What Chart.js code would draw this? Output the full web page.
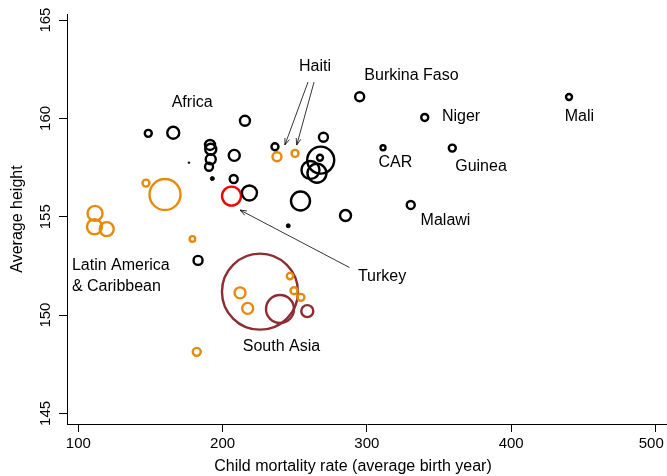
<!DOCTYPE html>
<html>
<head>
<meta charset="utf-8">
<script src="https://cdn.jsdelivr.net/npm/chart.js@4"></script>
<style>
  html, body { margin: 0; padding: 0; background: #fff; }
</style>
</head>
<body>
<canvas id="myChart" width="667" height="476"></canvas>
<script>
// values: child mortality (x), average height (y), bubble weight (r)
const africaX = [148.5, 165.8, 191.3, 191.8, 191.8, 190.6, 215.5, 208.1, 207.7, 218.6, 236.3, 269.9, 268.0, 267.5, 260.9, 265.4, 254.0, 285.2, 295.0, 311.2, 340.1, 359.2, 330.4, 440.1, 183.0];
const africaY = [159.24, 159.27, 158.65, 158.43, 157.92, 157.54, 159.88, 158.12, 156.92, 156.21, 158.56, 159.04, 157.88, 158.0, 157.38, 157.21, 155.80, 155.06, 161.10, 158.51, 160.05, 158.49, 155.60, 161.09, 152.78];
const africaR = [3.5, 6, 5, 5.5, 5, 4, 5, 5.5, 4, 7.5, 3.5, 4.5, 13.5, 3, 9, 9.5, 9.5, 5.5, 4.5, 2.5, 3.5, 3.5, 4, 3, 4.5];

const africaDotX = [176.7, 192.9, 245.5];
const africaDotY = [157.75, 156.94, 154.54];
const africaDotR = [0.8, 2, 2];

const latamX = [146.9, 160.1, 111.6, 111.2, 119.7, 179.1, 237.7, 250.2, 212.1, 217.4, 246.7, 249.5, 254.3, 182.1];
const latamY = [156.71, 156.13, 155.17, 154.49, 154.37, 153.87, 158.05, 158.22, 151.13, 150.34, 151.98, 151.24, 150.90, 148.13];
const latamR = [3.5, 15.5, 7.5, 7.5, 7, 2.8, 4.5, 3.5, 5.5, 5.5, 3.2, 3.5, 3.5, 4];

const southAsiaX = [225.9, 239.8, 258.7];
const southAsiaY = [151.19, 150.31, 150.20];
const southAsiaR = [38, 14, 6];

const turkeyX = [206.2];
const turkeyY = [156.05];
const turkeyR = [9.5];

const xTicks = [100, 200, 300, 400, 500];
const yTicks = [145, 150, 155, 160, 165];

// text labels and arrows, placed in data units
const labels = [
  { text: "Africa", x: 178.9, y: 160.83, align: "center" },
  { text: "Haiti", x: 264.0, y: 162.61, align: "center" },
  { text: "Burkina Faso", x: 330.9, y: 162.16, align: "center" },
  { text: "Niger", x: 352.0, y: 160.07, align: "left" },
  { text: "Mali", x: 447.3, y: 160.07, align: "center" },
  { text: "CAR", x: 319.8, y: 157.73, align: "center" },
  { text: "Guinea", x: 379.1, y: 157.53, align: "center" },
  { text: "Malawi", x: 354.5, y: 154.78, align: "center" },
  { text: "Turkey", x: 310.5, y: 151.98, align: "center" },
  { text: "Latin America", x: 95.6, y: 152.54, align: "left" },
  { text: "& Caribbean", x: 95.6, y: 151.47, align: "left" },
  { text: "South Asia", x: 240.8, y: 148.42, align: "center" },
];
const arrows = [
  { x0: 259.2, y0: 161.85, x1: 243.2, y1: 158.65 },
  { x0: 263.4, y0: 161.85, x1: 251.4, y1: 158.65 },
  { x0: 287.9, y0: 152.42, x1: 212.1, y1: 155.34 },
];

const FONT = '"Liberation Sans", Arial, Helvetica, sans-serif';

function points(xs, ys, rs) {
  return xs.map((v, i) => ({ x: v, y: ys[i], r: rs[i] }));
}

const annotate = {
  id: "annotate",
  afterDatasetsDraw(chart) {
    const { ctx, chartArea } = chart;
    const sx = chart.scales.x, sy = chart.scales.y;
    ctx.save();
    ctx.fillStyle = "#000";
    ctx.font = "16px " + FONT;
    ctx.textBaseline = "middle";
    labels.forEach((l) => {
      ctx.textAlign = l.align;
      ctx.fillText(l.text, sx.getPixelForValue(l.x), sy.getPixelForValue(l.y));
    });

    ctx.strokeStyle = "#000";
    ctx.lineWidth = 0.8;
    arrows.forEach((a) => {
      const px0 = sx.getPixelForValue(a.x0), py0 = sy.getPixelForValue(a.y0);
      const px1 = sx.getPixelForValue(a.x1), py1 = sy.getPixelForValue(a.y1);
      const ang = Math.atan2(py1 - py0, px1 - px0);
      ctx.beginPath();
      ctx.moveTo(px0, py0);
      ctx.lineTo(px1, py1);
      ctx.moveTo(px1 - 7 * Math.cos(ang - 0.35), py1 - 7 * Math.sin(ang - 0.35));
      ctx.lineTo(px1, py1);
      ctx.lineTo(px1 - 7 * Math.cos(ang + 0.35), py1 - 7 * Math.sin(ang + 0.35));
      ctx.stroke();
    });

    // axis titles
    ctx.textAlign = "center";
    ctx.fillText("Child mortality rate (average birth year)", 353, 467);
    ctx.translate(18, (chartArea.top + chartArea.bottom) / 2);
    ctx.rotate(-Math.PI / 2);
    ctx.fillText("Average height", 0, 0);
    ctx.restore();
  },
};

new Chart(document.getElementById("myChart"), {
  type: "bubble",
  plugins: [annotate],
  data: {
    datasets: [
      { label: "Africa", data: points(africaX, africaY, africaR), borderColor: "#000", backgroundColor: "rgba(0,0,0,0)", borderWidth: 2.4 },
      { label: "Africa small", data: points(africaDotX, africaDotY, africaDotR), borderColor: "#000", backgroundColor: "#000", borderWidth: 1 },
      { label: "Latin America & Caribbean", data: points(latamX, latamY, latamR), borderColor: "rgb(230,138,10)", backgroundColor: "rgba(0,0,0,0)", borderWidth: 2.4 },
      { label: "South Asia", data: points(southAsiaX, southAsiaY, southAsiaR), borderColor: "rgb(140,45,52)", backgroundColor: "rgba(0,0,0,0)", borderWidth: 2.4 },
      { label: "Turkey", data: points(turkeyX, turkeyY, turkeyR), borderColor: "rgb(245,0,0)", backgroundColor: "rgba(0,0,0,0)", borderWidth: 2.4 },
    ],
  },
  options: {
    responsive: false,
    animation: false,
    events: [],
    layout: { autoPadding: false, padding: { top: 14, right: 0, left: 0, bottom: 0 } },
    plugins: { legend: { display: false }, tooltip: { enabled: false } },
    scales: {
      x: {
        type: "linear",
        min: 92.17,
        max: 508,
        afterBuildTicks: (s) => { s.ticks = xTicks.map((v) => ({ value: v })); },
        afterFit: (s) => { s.height = 52; s.paddingLeft = 0; s.paddingRight = 0; },
        grid: { display: true, drawOnChartArea: false, drawTicks: true, tickLength: 8, color: "#000", lineWidth: 1 },
        border: { display: true, color: "#000", width: 1 },
        // last label is nudged left so it stays inside the canvas
        ticks: { font: { size: 15, family: FONT }, color: "#000", padding: 3, maxRotation: 0, autoSkip: false,
                 callback: (v) => (v === xTicks[xTicks.length - 1] ? v + "  " : String(v)) },
      },
      y: {
        type: "linear",
        min: 144.46,
        max: 165.31,
        afterBuildTicks: (s) => { s.ticks = yTicks.map((v) => ({ value: v })); },
        afterFit: (s) => { s.width = 67; s.paddingTop = 0; s.paddingBottom = 0; },
        grid: { display: true, drawOnChartArea: false, drawTicks: true, tickLength: 8, color: "#000", lineWidth: 1 },
        border: { display: true, color: "#000", width: 1 },
        ticks: { font: { size: 15, family: FONT }, color: "#000", padding: 1, minRotation: 90, maxRotation: 90, crossAlign: "center", autoSkip: false },
      },
    },
  },
});
</script>
</body>
</html>
